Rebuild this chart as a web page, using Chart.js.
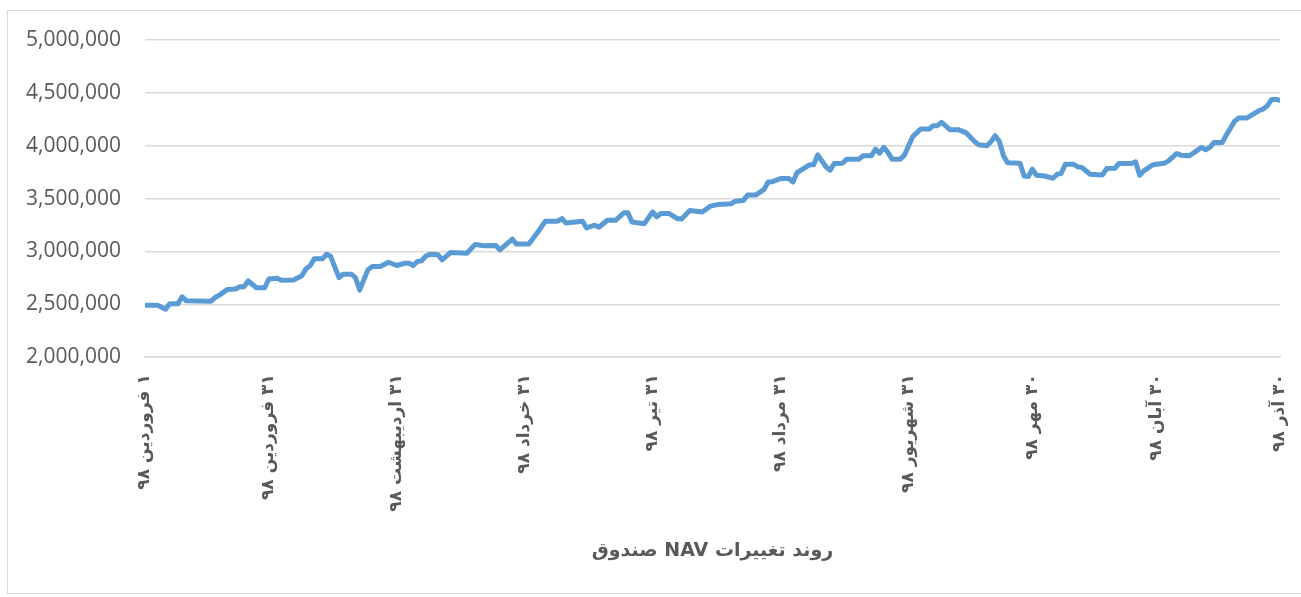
<!DOCTYPE html>
<html lang="fa">
<head>
    <meta charset="UTF-8">
    <title>روند تغییرات NAV صندوق</title>
    <style>
        body {
            margin: 0;
            background: #fff;
            overflow: hidden;
        }

        #frame {
            position: absolute;
            left: 7px;
            top: 10px;
            width: 1300px;
            height: 582px;
            border: 1px solid #d9d9d9;
        }

        #chartContainer {
            position: absolute;
            left: 0;
            top: 0;
            width: 1301px;
            height: 597px;
        }

        canvas {
            direction: rtl;
        }
    </style>
    <script src="https://cdn.jsdelivr.net/npm/chart.js"></script>
</head>
<body>
    <div id="frame"></div>
    <div id="chartContainer">
        <canvas id="navChart" dir="rtl"></canvas>
    </div>
    <script>
        // day number since 1 Farvardin 98
        const days = [
            1, 4, 6, 7, 9, 10, 11, 17, 18, 19,
            21, 23, 24, 25, 26, 28, 30, 31, 33, 34,
            37, 39, 40, 41, 42, 44, 45, 46, 48, 49,
            51, 52, 53, 55, 56, 58, 60, 62, 64, 65,
            66, 67, 68, 69, 70, 72, 73, 75, 79, 81,
            83, 86, 87, 90, 91, 94, 96, 98, 101, 102,
            103, 107, 108, 110, 111, 113, 115, 117, 118, 119,
            122, 124, 125, 126, 128, 130, 131, 133, 136, 138,
            140, 143, 144, 146, 147, 149, 151, 152, 153, 155,
            157, 158, 159, 162, 163, 164, 166, 167, 168, 170,
            171, 174, 175, 177, 178, 179, 180, 181, 182, 184,
            185, 187, 189, 191, 192, 193, 194, 196, 198, 200,
            201, 202, 203, 205, 206, 207, 208, 209, 210, 213,
            214, 215, 216, 217, 219, 221, 222, 223, 224, 226,
            227, 228, 230, 233, 234, 236, 237, 240, 241, 242,
            243, 245, 246, 248, 249, 251, 252, 254, 255, 257,
            258, 259, 260, 262, 263, 265, 266, 268, 270, 271,
            272, 273, 274, 275, 276
        ];

        const nav = [
            2492000, 2492000, 2454000, 2505000, 2505000, 2571000, 2533000, 2530000, 2565000, 2587000,
            2641000, 2645000, 2667000, 2667000, 2721000, 2657000, 2657000, 2740000, 2746000, 2727000,
            2730000, 2771000, 2835000, 2864000, 2930000, 2930000, 2974000, 2952000, 2752000, 2784000,
            2784000, 2752000, 2635000, 2826000, 2857000, 2857000, 2898000, 2867000, 2889000, 2889000,
            2867000, 2905000, 2911000, 2955000, 2974000, 2968000, 2921000, 2990000, 2983000, 3067000,
            3054000, 3057000, 3016000, 3117000, 3070000, 3070000, 3174000, 3286000, 3286000, 3311000,
            3270000, 3286000, 3222000, 3248000, 3229000, 3295000, 3295000, 3365000, 3365000, 3279000,
            3263000, 3374000, 3327000, 3359000, 3359000, 3311000, 3308000, 3387000, 3374000, 3429000,
            3445000, 3451000, 3476000, 3483000, 3533000, 3533000, 3587000, 3657000, 3660000, 3689000,
            3689000, 3657000, 3746000, 3819000, 3819000, 3914000, 3800000, 3768000, 3832000, 3835000,
            3873000, 3873000, 3905000, 3905000, 3968000, 3930000, 3984000, 3937000, 3873000, 3873000,
            3911000, 4086000, 4159000, 4159000, 4190000, 4190000, 4222000, 4152000, 4152000, 4121000,
            4080000, 4040000, 4010000, 4000000, 4040000, 4095000, 4040000, 3905000, 3838000, 3835000,
            3714000, 3708000, 3778000, 3721000, 3714000, 3692000, 3730000, 3740000, 3825000, 3825000,
            3800000, 3794000, 3730000, 3724000, 3784000, 3787000, 3832000, 3832000, 3848000, 3721000,
            3762000, 3816000, 3825000, 3835000, 3857000, 3927000, 3911000, 3905000, 3930000, 3984000,
            3962000, 3984000, 4031000, 4031000, 4102000, 4232000, 4263000, 4263000, 4311000, 4333000,
            4349000, 4381000, 4438000, 4438000, 4429000
        ];

        const tickDays = [1, 31, 62, 93, 124, 155, 186, 216, 246, 276];
        const tickLabels = [
            '۱ فروردین ۹۸', '۳۱ فروردین ۹۸', '۳۱ اردیبهشت ۹۸', '۳۱ خرداد ۹۸', '۳۱ تیر ۹۸',
            '۳۱ مرداد ۹۸', '۳۱ شهریور ۹۸', '۳۰ مهر ۹۸', '۳۰ آبان ۹۸', '۳۰ آذر ۹۸'
        ];

        const grey = '#595959';

        new Chart(document.getElementById('navChart'), {
            type: 'line',
            data: {
                datasets: [{
                    label: 'NAV',
                    data: days.map((d, i) => ({ x: d, y: nav[i] })),
                    borderColor: '#5b9bd5',
                    borderWidth: 5,
                    borderJoinStyle: 'round',
                    borderCapStyle: 'round',
                    pointRadius: 0,
                    tension: 0,
                    fill: false
                }]
            },
            options: {
                responsive: true,
                maintainAspectRatio: false,
                animation: false,
                layout: {
                    padding: { left: 0, top: 40, right: 21, bottom: 35 }
                },
                plugins: {
                    legend: { display: false },
                    tooltip: { enabled: false },
                    title: {
                        display: true,
                        position: 'bottom',
                        fullSize: false,
                        text: 'روند تغییرات NAV صندوق',
                        color: grey,
                        font: { family: 'DejaVu Sans', size: 19, weight: 'bold' },
                        padding: 0
                    }
                },
                scales: {
                    x: {
                        type: 'linear',
                        min: 1,
                        max: 276,
                        afterBuildTicks: axis => {
                            axis.ticks = tickDays.map(v => ({ value: v }));
                        },
                        afterFit: axis => {
                            axis.height = 182;
                            axis.paddingLeft = 0;
                            axis.paddingRight = 0;
                        },
                        grid: { display: false, drawTicks: false },
                        border: { color: '#d9d9d9', width: 1.5 },
                        ticks: {
                            autoSkip: false,
                            minRotation: 90,
                            maxRotation: 90,
                            padding: 17,
                            color: grey,
                            font: { family: 'DejaVu Sans', size: 17, weight: 'bold' },
                            callback: value => tickLabels[tickDays.indexOf(value)]
                        }
                    },
                    y: {
                        min: 2000000,
                        max: 5000000,
                        afterFit: axis => {
                            axis.width = 145;
                        },
                        grid: { color: '#d9d9d9', lineWidth: 1.5, drawTicks: false },
                        border: { display: false },
                        ticks: {
                            stepSize: 500000,
                            padding: 24,
                            color: grey,
                            font: { family: 'Open Sans', size: 21 },
                            callback: value => value.toLocaleString('en-US')
                        }
                    }
                }
            }
        });
    </script>
</body>
</html>
